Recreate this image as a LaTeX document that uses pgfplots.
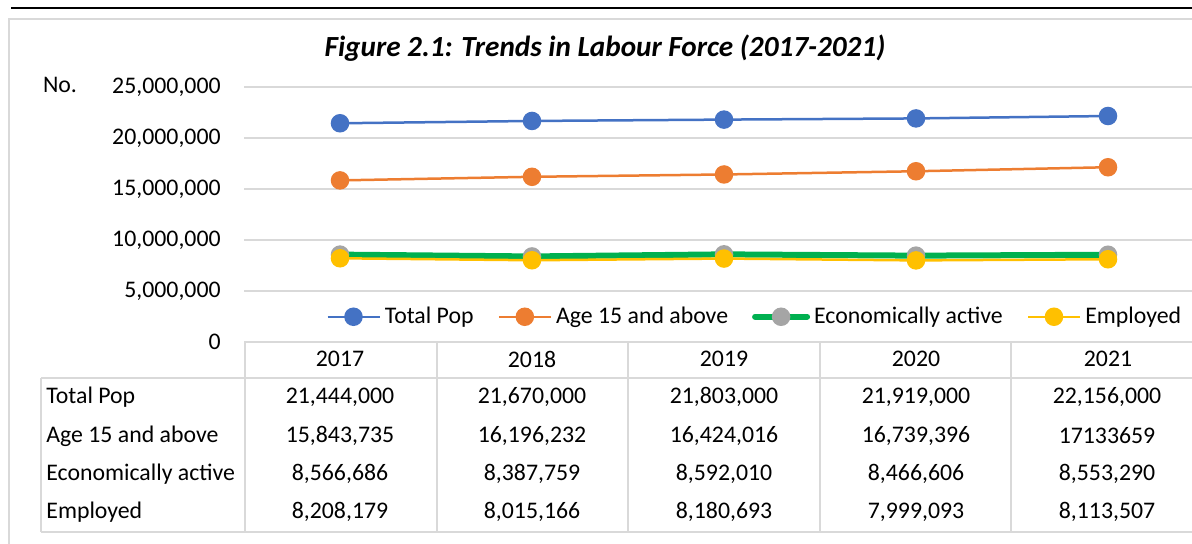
\documentclass[border=0pt]{standalone}
\usepackage{pgfplots}
\pgfplotsset{compat=1.18}
\usepackage{fontspec}
\setmainfont{Carlito}
\definecolor{cblue}{HTML}{4472C4}
\definecolor{corange}{HTML}{ED7D31}
\definecolor{cgray}{HTML}{A5A5A5}
\definecolor{cyellow}{HTML}{FFC000}
\definecolor{cgreen}{HTML}{00B050}
\definecolor{gridc}{HTML}{D9D9D9}
\newcommand{\lf}{\fontsize{11.9}{14}\selectfont}
\begin{document}
\begin{tikzpicture}[x=0.5pt,y=-0.5pt]
\path[use as bounding box] (0,0) rectangle (1192,544);
\draw[gridc, line width=1pt] (9,546) -- (9,19) -- (1200,19);
\draw[black, line width=1pt] (11,8) -- (1200,8);
\node[font=\fontsize{14.6}{17}\selectfont\bfseries\itshape] at (605,48) {Figure 2.1: Trends in Labour Force (2017-2021)};
\node[font=\lf] at (60,85) {No.};
\begin{axis}[
  at={(122pt,-171pt)}, anchor=south west,
  scale only axis, width=480pt, height=127.5pt,
  xmin=-0.5, xmax=4.5, ymin=0, ymax=25000000,
  scaled y ticks=false,
  axis line style={draw=none},
  tick style={draw=none}, major tick length=0pt,
  ytick={0,5000000,10000000,15000000,20000000,25000000},
  yticklabels={0,{5,000,000},{10,000,000},{15,000,000},{20,000,000},{25,000,000}},
  xtick={0,1,2,3,4},
  xticklabels={2017,2018,2019,2020,2021},
  xticklabel style={anchor=center, yshift=-8.5pt, font=\lf},
  yticklabel style={anchor=east, inner sep=0pt, xshift=-11.5pt, font=\lf},
  ymajorgrids, major grid style={gridc, line width=0.75pt},
  clip=false,
  every axis plot/.append style={line width=1.25pt, mark=*, mark size=4pt},
  legend columns=4,
  legend style={at={(0.533,0.099)}, anchor=center, draw=none, fill=none, font=\lf,
    /tikz/every even column/.append style={column sep=10pt},
    nodes={inner sep=2pt}},
  legend image code/.code={\draw[mark repeat=2,mark phase=2] plot coordinates {(0pt,0pt)(13pt,0pt)(26pt,0pt)};},
]
\addplot[cblue, mark options={fill=cblue, draw=cblue}] coordinates {(0,21444000)(1,21670000)(2,21803000)(3,21919000)(4,22156000)};
\addlegendentry{Total Pop}
\addplot[corange, mark options={fill=corange, draw=corange}] coordinates {(0,15843735)(1,16196232)(2,16424016)(3,16739396)(4,17133659)};
\addlegendentry{Age 15 and above}
\addplot[cgreen, line width=3pt, line cap=round, mark options={fill=cgray, draw=cgray, line width=1.25pt}] coordinates {(0,8566686)(1,8387759)(2,8592010)(3,8466606)(4,8553290)};
\addlegendentry{Economically active}
\addplot[cyellow, mark options={fill=cyellow, draw=cyellow}] coordinates {(0,8208179)(1,8015166)(2,8180693)(3,7999093)(4,8113507)};
\addlegendentry{Employed}
\end{axis}
% data table
\draw[gridc, line width=1pt] (245,342) -- (1205,342);
\draw[gridc, line width=1pt] (41,378) -- (1205,378);
\draw[gridc, line width=1pt] (41,532) -- (1205,532);
\draw[gridc, line width=1pt] (41,378) -- (41,532);
\foreach \xx in {245,437,628,820,1011,1203} {\draw[gridc, line width=1pt] (\xx,342) -- (\xx,532);}
\begin{scope}[every node/.style={font=\lf, inner sep=0pt}]
\node[anchor=west] at (46,397) {Total Pop};
\node[anchor=west] at (46,436) {Age 15 and above};
\node[anchor=west] at (46,474) {Economically active};
\node[anchor=west] at (46,512) {Employed};
\node at (340,397) {21,444,000}; \node at (532,397) {21,670,000}; \node at (724,397) {21,803,000}; \node at (916,397) {21,919,000}; \node at (1107,397) {22,156,000};
\node at (340,436) {15,843,735}; \node at (532,436) {16,196,232}; \node at (724,436) {16,424,016}; \node at (916,436) {16,739,396}; \node at (1107,436) {17133659};
\node at (340,474) {8,566,686}; \node at (532,474) {8,387,759}; \node at (724,474) {8,592,010}; \node at (916,474) {8,466,606}; \node at (1107,474) {8,553,290};
\node at (340,512) {8,208,179}; \node at (532,512) {8,015,166}; \node at (724,512) {8,180,693}; \node at (916,512) {7,999,093}; \node at (1107,512) {8,113,507};
\end{scope}
\end{tikzpicture}
\end{document}
